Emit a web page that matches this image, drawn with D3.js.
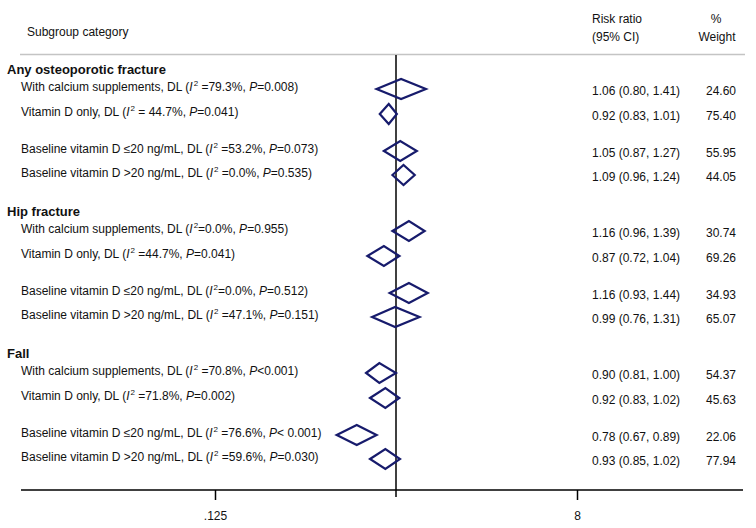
<!DOCTYPE html>
<html>
<head>
<meta charset="utf-8">
<script src="https://cdn.jsdelivr.net/npm/d3@7"></script>
<style>
	body { margin: 0; background: #fff; }
	svg text { font-family: Arial, "Liberation Sans", sans-serif; fill: #111; }
</style>
</head>
<body>
<div id="forest"></div>
<script>
// forest plot of subgroup risk ratios

var groups = ['Any osteoporotic fracture', 'Hip fracture', 'Fall'];
var subgroups = ['With calcium supplements', 'Vitamin D only', 'Baseline vitamin D \u226420 ng/mL', 'Baseline vitamin D >20 ng/mL'];

// one entry per row, 4 rows per group
var rowGroup = [0, 0, 0, 0, 1, 1, 1, 1, 2, 2, 2, 2];
var rowSub   = [0, 1, 2, 3, 0, 1, 2, 3, 0, 1, 2, 3];

// diamonds as drawn in the picture (the Fall ones don't sit on their printed CI)
var rr    = [1.06, 0.92, 1.05, 1.09, 1.16, 0.87, 1.16, 0.99, 0.826, 0.885, 0.637, 0.885];
var lower = [0.80, 0.83, 0.87, 0.96, 0.96, 0.72, 0.93, 0.76, 0.709, 0.742, 0.506, 0.742];
var upper = [1.41, 1.01, 1.27, 1.24, 1.39, 1.04, 1.44, 1.31, 1.00, 1.039, 0.80, 1.047];

// printed columns
var ciText = ['1.06 (0.80, 1.41)', '0.92 (0.83, 1.01)', '1.05 (0.87, 1.27)', '1.09 (0.96, 1.24)',
	'1.16 (0.96, 1.39)', '0.87 (0.72, 1.04)', '1.16 (0.93, 1.44)', '0.99 (0.76, 1.31)',
	'0.90 (0.81, 1.00)', '0.92 (0.83, 1.02)', '0.78 (0.67, 0.89)', '0.93 (0.85, 1.02)'];
var weight = ['24.60', '75.40', '55.95', '44.05', '30.74', '69.26', '34.93', '65.07', '54.37', '45.63', '22.06', '77.94'];
var i2Text = [' =79.3%', ' = 44.7%', ' =53.2%', ' =0.0%', '=0.0%', ' =44.7%', '=0.0%', ' =47.1%', ' =70.8%', ' =71.8%', ' =76.6%', ' =59.6%'];
var pText  = ['=0.008', '=0.041', '=0.073', '=0.535', '=0.955', '=0.041', '=0.512', '=0.151', '<0.001', '=0.002', '< 0.001', '=0.030'];

var tickValues = [0.125, 8];
var tickLabels = ['.125', '8'];

var width = 756, height = 528;
var navy = '#171b6c';

var svg = d3.select('#forest')
	.append('svg')
		.attr('width', width)
		.attr('height', height);

// log2 scale, .125 and 8
var x = d3.scaleLog().base(2)
	.domain([0.125, 8])
	.range([215, 577]);

var axisY = 490;
var headingTop = 69;

// vertical layout: heading, pair of rows, gap, pair of rows
var headingY = [];
var rowY = [];
var yPos = headingTop;
for (var g = 0; g < groups.length; g++)
{
	headingY.push(yPos);
	yPos += 20;
	rowY.push(yPos); yPos += 25;
	rowY.push(yPos); yPos += 37;
	rowY.push(yPos); yPos += 24;
	rowY.push(yPos); yPos += 36;
}

// header
svg.append('text')
	.attr('x', 27).attr('y', 36)
	.attr('font-size', 12)
	.text('Subgroup category');
svg.append('text')
	.attr('x', 592).attr('y', 23)
	.attr('font-size', 12)
	.text('Risk ratio');
svg.append('text')
	.attr('x', 592).attr('y', 41)
	.attr('font-size', 12)
	.text('(95% CI)');
svg.append('text')
	.attr('x', 716).attr('y', 23)
	.attr('text-anchor', 'middle')
	.attr('font-size', 12)
	.text('%');
svg.append('text')
	.attr('x', 717).attr('y', 41)
	.attr('text-anchor', 'middle')
	.attr('font-size', 12)
	.text('Weight');

svg.append('line')
	.attr('x1', 20).attr('x2', 745)
	.attr('y1', 54.5).attr('y2', 54.5)
	.attr('stroke', '#c4c4c4')
	.attr('stroke-width', 1.6);

// null line
svg.append('line')
	.attr('x1', x(1)).attr('x2', x(1))
	.attr('y1', 55).attr('y2', axisY + 7)
	.attr('stroke', '#000')
	.attr('stroke-width', 1.5);

// group headings
svg.selectAll('text.heading')
	.data(groups)
	.enter().append('text')
		.attr('class', 'heading')
		.attr('x', 7)
		.attr('y', function(d, i) { return headingY[i] + 5; })
		.attr('font-size', 13)
		.attr('font-weight', 'bold')
		.text(function(d) { return d; });

// subgroup labels with italic I2 and P
var labels = svg.selectAll('text.label')
	.data(rr)
	.enter().append('text')
		.attr('class', 'label')
		.attr('x', 21)
		.attr('y', function(d, i) { return rowY[i] + 2; })
		.attr('font-size', 12);
labels.append('tspan').text(function(d, i) { return subgroups[rowSub[i]] + ', DL ('; });
labels.append('tspan').attr('font-style', 'italic').text('I');
labels.append('tspan').attr('font-size', 8).attr('dx', 1).attr('dy', -5).text('2');
labels.append('tspan').attr('dy', 5).text(function(d, i) { return i2Text[i] + ', '; });
labels.append('tspan').attr('font-style', 'italic').text('P');
labels.append('tspan').text(function(d, i) { return pText[i] + ')'; });

// diamonds
svg.selectAll('path.diamond')
	.data(rr)
	.enter().append('path')
		.attr('class', 'diamond')
		.attr('d', function(d, i)
		{
			var cy = rowY[i];
			return 'M' + x(lower[i]) + ',' + cy +
				'L' + x(d) + ',' + (cy - 10) +
				'L' + x(upper[i]) + ',' + cy +
				'L' + x(d) + ',' + (cy + 10) + 'Z';
		})
		.attr('fill', 'none')
		.attr('stroke', navy)
		.attr('stroke-width', 2.2)
		.attr('stroke-linejoin', 'miter');

// right columns
svg.selectAll('text.ci')
	.data(ciText)
	.enter().append('text')
		.attr('class', 'ci')
		.attr('x', 592)
		.attr('y', function(d, i) { return rowY[i] + 6; })
		.attr('font-size', 12)
		.text(function(d) { return d; });

svg.selectAll('text.weight')
	.data(weight)
	.enter().append('text')
		.attr('class', 'weight')
		.attr('x', 736)
		.attr('y', function(d, i) { return rowY[i] + 6; })
		.attr('text-anchor', 'end')
		.attr('font-size', 12)
		.text(function(d) { return d; });

// x axis
svg.append('line')
	.attr('x1', 21).attr('x2', 743)
	.attr('y1', axisY).attr('y2', axisY)
	.attr('stroke', '#000')
	.attr('stroke-width', 1.5);

var axis = svg.append('g')
	.attr('transform', 'translate(0,' + axisY + ')')
	.call(d3.axisBottom(x)
		.tickValues(tickValues)
		.tickFormat(function(d, i) { return tickLabels[i]; })
		.tickSize(10)
		.tickSizeOuter(0)
		.tickPadding(11));
axis.select('.domain').remove();
axis.selectAll('.tick line').attr('stroke', '#000').attr('stroke-width', 1.5);
axis.selectAll('.tick text')
	.attr('font-size', 12)
	.attr('font-family', 'Arial, "Liberation Sans", sans-serif')
	.attr('fill', '#111');
</script>
</body>
</html>
